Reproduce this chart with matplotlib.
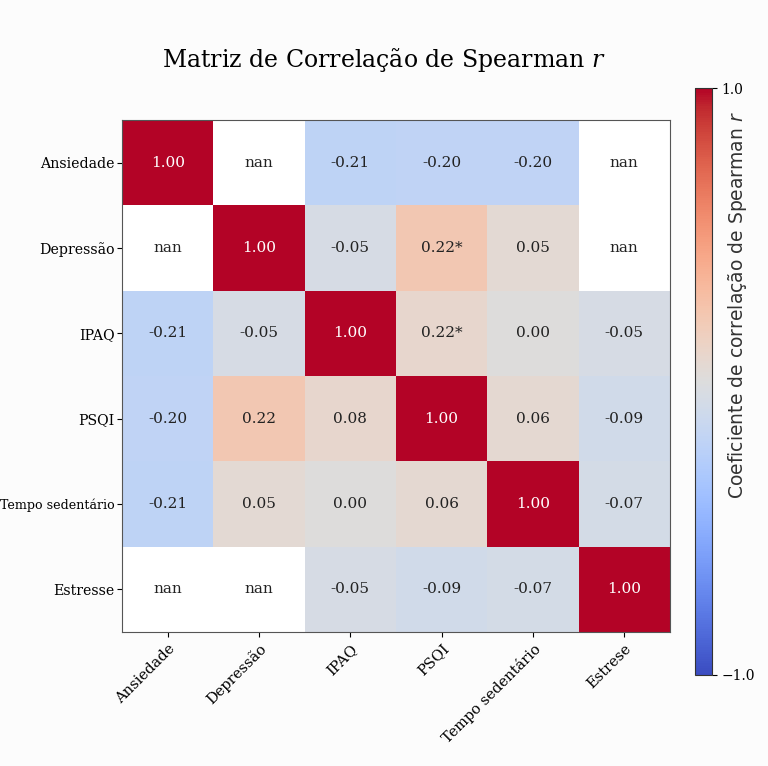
import numpy as np
import matplotlib
matplotlib.use("Agg")
import matplotlib.pyplot as plt

# ---------- Data ----------
row_labels = ["Ansiedade", "Depressão", "IPAQ", "PSQI", "Tempo sedentário", "Estresse"]
col_labels = ["Ansiedade", "Depressão", "IPAQ", "PSQI", "Tempo sedentário", "Estrese"]

nan = np.nan
# values used for the cell colours
r_ansiedade = [1.00, nan, -0.21, -0.20, -0.20, nan]
r_depressao = [nan, 1.00, -0.05, 0.22, 0.05, nan]
r_ipaq = [-0.21, -0.05, 1.00, 0.08, 0.00, -0.05]
r_psqi = [-0.20, 0.22, 0.08, 1.00, 0.06, -0.09]
r_tempo = [-0.21, 0.05, 0.00, 0.06, 1.00, -0.07]
r_estresse = [nan, nan, -0.05, -0.09, -0.07, 1.00]

# text shown in each cell
a_ansiedade = ["1.00", "nan", "-0.21", "-0.20", "-0.20", "nan"]
a_depressao = ["nan", "1.00", "-0.05", "0.22*", "0.05", "nan"]
a_ipaq = ["-0.21", "-0.05", "1.00", "0.22*", "0.00", "-0.05"]
a_psqi = ["-0.20", "0.22", "0.08", "1.00", "0.06", "-0.09"]
a_tempo = ["-0.21", "0.05", "0.00", "0.06", "1.00", "-0.07"]
a_estresse = ["nan", "nan", "-0.05", "-0.09", "-0.07", "1.00"]

corr = np.array([r_ansiedade, r_depressao, r_ipaq, r_psqi, r_tempo, r_estresse])
annot = [a_ansiedade, a_depressao, a_ipaq, a_psqi, a_tempo, a_estresse]

plt.rcParams["font.family"] = ["DejaVu Serif"]

fig = plt.figure(figsize=(7.68, 7.66), dpi=100, facecolor="#fcfcfc")
ax = fig.add_axes([0.159, 0.175, 0.713, 0.668])
cax = fig.add_axes([0.905, 0.119, 0.022, 0.766])

cmap = plt.get_cmap("coolwarm").copy()
cmap.set_bad("white")
im = ax.imshow(np.ma.masked_invalid(corr), cmap=cmap, vmin=-1, vmax=1, aspect="auto")

for i in range(len(row_labels)):
    for j in range(len(col_labels)):
        val = corr[i, j]
        color = "white" if (not np.isnan(val) and abs(val) > 0.6) else "#222222"
        ax.text(j, i, annot[i][j], ha="center", va="center", fontsize=11, color=color)

ax.set_xticks(range(len(col_labels)))
ax.set_yticks(range(len(row_labels)))
ax.set_xticklabels(col_labels, rotation=45, ha="right", rotation_mode="anchor", fontsize=10.5)
ax.set_yticklabels(row_labels, fontsize=10.2)
ax.get_yticklabels()[4].set_fontsize(9.1)  # long label, keep it inside the figure
ax.tick_params(axis="y", pad=2)
for s in ax.spines.values():
    s.set_color("#555555")

fig.suptitle("Matriz de Correlação de Spearman $r$", fontsize=17, y=0.94,
             math_fontfamily="dejavuserif")

cb = fig.colorbar(im, cax=cax, ticks=[-1.0, 1.0])
cb.ax.set_yticklabels(["\u22121.0", "1.0"], fontsize=10)
cb.outline.set_edgecolor("#333333")
cb.set_label("Coeficiente de correlação de Spearman $r$", fontsize=13.5,
             family="DejaVu Sans", math_fontfamily="dejavusans", color="#333333")
cb.ax.yaxis.set_label_coords(1.85, 0.63)

fig.savefig("out.png", dpi=100, facecolor=fig.get_facecolor())
